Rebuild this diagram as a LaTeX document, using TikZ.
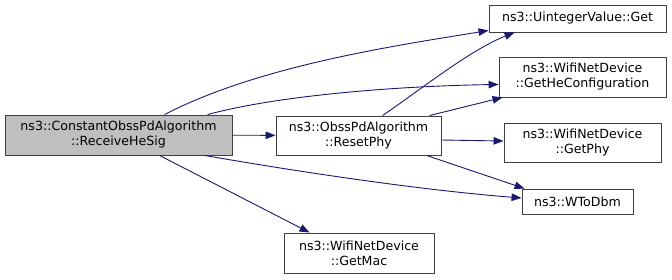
\documentclass[tikz,border=0pt]{standalone}
\usepackage{fontspec}
\setmainfont{DejaVu Sans}
\usetikzlibrary{arrows.meta}
\definecolor{edgeblue}{HTML}{191970}
\definecolor{boxline}{HTML}{404040}
\definecolor{mainfill}{HTML}{BFBFBF}
\tikzset{
  fn/.style={draw=boxline, fill=white, line width=0.9pt, align=center,
    inner sep=0pt, font=\fontsize{12.6}{15}\selectfont},
  mainfn/.style={fn, fill=mainfill},
  call/.style={draw=edgeblue, line width=0.9pt,
    -{Triangle[length=10pt,width=7.5pt]}},
}
\begin{document}
\begin{tikzpicture}[x=1pt,y=-1pt]
\useasboundingbox (0,0) rectangle (672,279);

% functions
\node[mainfn, minimum width=227pt, minimum height=40pt] (recv) at (118.5,135)
  {ns3::ConstantObssPdAlgorithm\\::ReceiveHeSig};
\node[fn, minimum width=165pt, minimum height=39pt] (reset) at (358.5,135.5)
  {ns3::ObssPdAlgorithm\\::ResetPhy};
\node[fn, minimum width=177pt, minimum height=27pt] (uget) at (577.5,18.5)
  {ns3::UintegerValue::Get};
\node[fn, minimum width=167pt, minimum height=40pt] (heconf) at (582.5,77)
  {ns3::WifiNetDevice\\::GetHeConfiguration};
\node[fn, minimum width=157pt, minimum height=39pt] (getphy) at (582.5,142.5)
  {ns3::WifiNetDevice\\::GetPhy};
\node[fn, minimum width=111pt, minimum height=25pt] (wtodbm) at (577.5,201.5)
  {ns3::WToDbm};
\node[fn, minimum width=150pt, minimum height=40pt] (getmac) at (359,253)
  {ns3::WifiNetDevice\\::GetMac};

% calls from ReceiveHeSig
\draw[call] ([xshift=160pt]recv.north west) .. controls (260,65) and (400,45)
  .. ([yshift=2pt]uget.south west);
\draw[call] ([xshift=203pt]recv.north west) .. controls (280,95) and (400,86)
  .. ([yshift=13pt]heconf.south west);
\draw[call] (recv) -- (reset);
\draw[call] ([xshift=200pt]recv.south west) .. controls (300,172) and (420,190)
  .. ([yshift=3.5pt]wtodbm.west);
\draw[call] ([xshift=155pt]recv.south west) -- ([xshift=26pt]getmac.north west);

% calls from ResetPhy
\draw[call] ([xshift=107pt]reset.north west) .. controls (420,90) and (470,50)
  .. ([xshift=26pt]uget.south west);
\draw[call] ([xshift=154pt]reset.north west) -- ([xshift=4pt]heconf.south west);
\draw[call] ([yshift=-4.5pt]reset.east) -- ([yshift=1.5pt]getphy.west);
\draw[call] ([xshift=151pt]reset.south west) -- ([xshift=3pt]wtodbm.north west);
\end{tikzpicture}
\end{document}
